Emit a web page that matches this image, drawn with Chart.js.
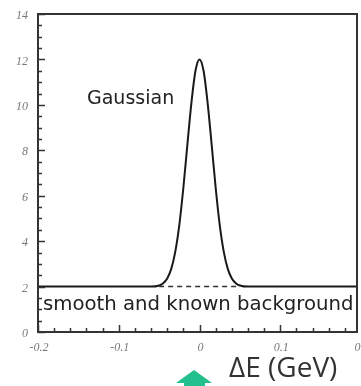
<!DOCTYPE html>
<html>
<head>
<meta charset="utf-8">
<script src="https://cdn.jsdelivr.net/npm/chart.js@4"></script>
<style>
  html, body { margin: 0; padding: 0; background: #fff; overflow: hidden; }
  #wrap { width: 361px; height: 386px; }
</style>
</head>
<body>
<div id="wrap"><canvas id="chart" width="361" height="386"></canvas></div>
<script>
// values
const deltaE = [-0.2, -0.1, -0.06, -0.05, -0.045, -0.04, -0.035, -0.03, -0.025, -0.02, -0.015, -0.01, -0.005, 0,
  0.005, 0.01, 0.015, 0.02, 0.025, 0.03, 0.035, 0.04, 0.045, 0.05, 0.06, 0.1, 0.195];
const events = [2, 2, 2, 2.05, 2.15, 2.36, 2.78, 3.54, 4.72, 6.35, 8.26, 10.1, 11.5, 12,
  11.5, 10.1, 8.26, 6.35, 4.72, 3.54, 2.78, 2.36, 2.15, 2.05, 2, 2, 2];
const bgX = [-0.05, 0.05];
const bgY = [2, 2];
const xTickLabels = ["-0.2", "-0.1", "0", "0.1", "0.2"];
const yTickLabels = ["0", "2", "4", "6", "8", "10", "12", "14"];

const toPoints = (xs, ys) => xs.map((x, i) => ({ x, y: ys[i] }));

const axesPlugin = {
  id: "axes",
  afterDatasetsDraw(chart) {
    const { ctx, chartArea: a, scales: { x, y } } = chart;
    ctx.save();
    ctx.strokeStyle = "#333";
    ctx.lineWidth = 2;
    ctx.strokeRect(a.left, a.top, a.right - a.left, a.bottom - a.top);

    // inward tick marks
    ctx.lineWidth = 1.5;
    for (let i = 0; i <= 28; i++) {
      const v = i * 0.5;
      const py = Math.round(y.getPixelForValue(v)) + 0.5;
      const len = i % 4 === 0 ? 7 : 4;
      ctx.beginPath();
      ctx.moveTo(a.left, py);
      ctx.lineTo(a.left + len, py);
      ctx.stroke();
    }
    for (let i = 0; i <= 19; i++) {
      const v = -0.2 + i * 0.02;
      const px = Math.round(x.getPixelForValue(v)) + 0.5;
      const len = i % 5 === 0 ? 7 : 4;
      ctx.beginPath();
      ctx.moveTo(px, a.bottom);
      ctx.lineTo(px, a.bottom - len);
      ctx.stroke();
    }

    // tick labels
    ctx.fillStyle = "#777";
    ctx.font = "italic 12px 'Liberation Serif'";
    ctx.textAlign = "right";
    ctx.textBaseline = "middle";
    yTickLabels.forEach((t) => {
      ctx.fillText(t, a.left - 10, y.getPixelForValue(Number(t)) + 2);
    });
    ctx.textAlign = "center";
    ctx.textBaseline = "top";
    xTickLabels.forEach((t) => {
      ctx.fillText(t, x.getPixelForValue(Number(t)) + 1, a.bottom + 10);
    });

    // text annotations
    ctx.fillStyle = "#222";
    ctx.font = "19px 'DejaVu Sans'";
    ctx.textAlign = "left";
    ctx.textBaseline = "middle";
    ctx.fillText("Gaussian", 87, 99);
    ctx.font = "19.7px 'DejaVu Sans'";
    ctx.fillText("smooth and known background", 43, 305);

    ctx.fillStyle = "#333";
    ctx.font = "28px 'Open Sans'";
    ctx.fillText("ΔE (GeV)", 229, 369);

    // green arrow
    ctx.fillStyle = "#22c08c";
    ctx.beginPath();
    ctx.moveTo(194, 370);
    ctx.lineTo(212, 383);
    ctx.lineTo(205, 383);
    ctx.lineTo(205, 386);
    ctx.lineTo(184, 386);
    ctx.lineTo(184, 383);
    ctx.lineTo(176, 383);
    ctx.closePath();
    ctx.fill();
    ctx.restore();
  },
};

new Chart(document.getElementById("chart"), {
  type: "line",
  data: {
    datasets: [
      {
        data: toPoints(bgX, bgY),
        borderColor: "#333",
        borderWidth: 1.5,
        borderDash: [5, 4],
        pointRadius: 0,
      },
      {
        data: toPoints(deltaE, events),
        borderColor: "#1a1a1a",
        borderWidth: 2,
        pointRadius: 0,
        cubicInterpolationMode: "monotone",
      },
    ],
  },
  options: {
    responsive: false,
    animation: false,
    layout: { padding: { left: 38, right: 4, top: 14, bottom: 54 } },
    plugins: { legend: { display: false }, tooltip: { enabled: false } },
    scales: {
      x: { type: "linear", min: -0.2, max: 0.195, display: false },
      y: { min: 0, max: 14, display: false },
    },
  },
  plugins: [axesPlugin],
});
</script>
</body>
</html>
